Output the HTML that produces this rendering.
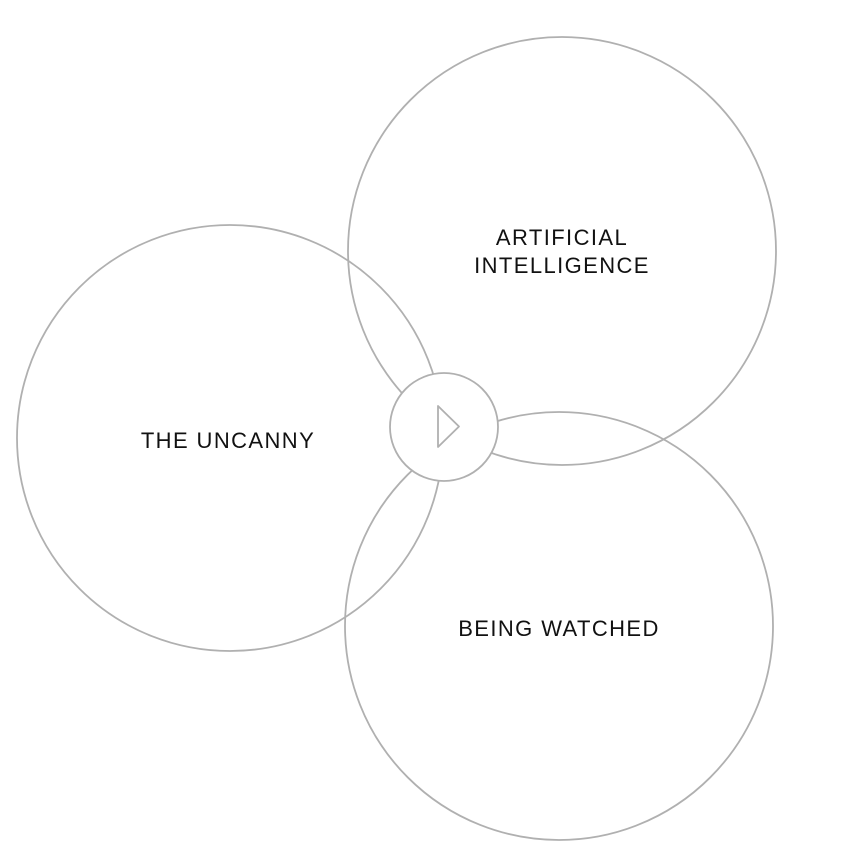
<!DOCTYPE html>
<html><head><style>html,body{margin:0;padding:0;background:#fff;}</style></head>
<body>
<svg width="853" height="853" viewBox="0 0 853 853" xmlns="http://www.w3.org/2000/svg">
<rect width="853" height="853" fill="#fff"/>
<g fill="none" stroke="#b0b0b0" stroke-width="1.8">
<circle cx="230" cy="438" r="213"/>
<circle cx="562" cy="251" r="214"/>
<circle cx="559" cy="626" r="214"/>
</g>
<circle cx="444" cy="427" r="54" fill="#fff" stroke="#b0b0b0" stroke-width="1.8"/>
<polygon points="438,406 438,447 459,426.5" fill="none" stroke="#b0b0b0" stroke-width="1.8" stroke-linejoin="round"/>
<g font-family="Liberation Sans, sans-serif" font-size="22" fill="#111" text-anchor="middle" letter-spacing="1.4">
<text x="562" y="245">ARTIFICIAL</text>
<text x="562" y="273">INTELLIGENCE</text>
<text x="228" y="448">THE UNCANNY</text>
<text x="559" y="636">BEING WATCHED</text>
</g>
</svg>
</body></html>
